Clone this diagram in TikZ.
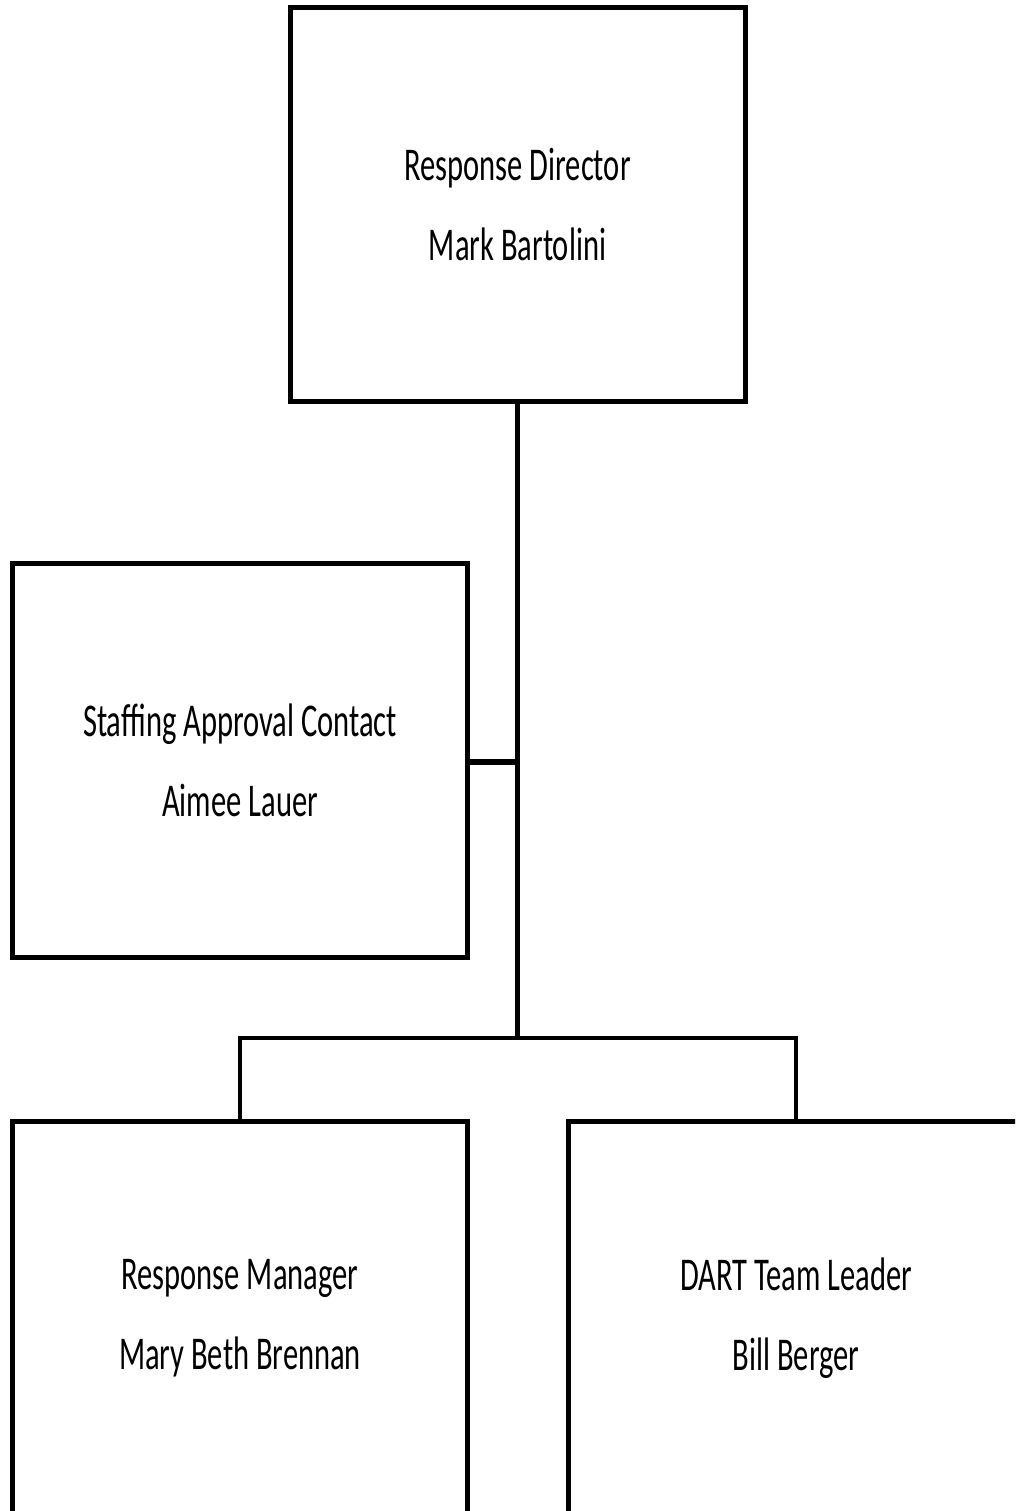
\documentclass[tikz,border=0pt]{standalone}
\usepackage{fontspec}
\newfontfamily\boxfont[FakeStretch=0.65]{Carlito}
\begin{document}
\begin{tikzpicture}[x=1pt,y=-1pt,
  orgbox/.style={draw, line width=5pt, minimum width=455pt, minimum height=394pt,
    inner sep=0pt, align=center, font=\boxfont\fontsize{47}{80}\selectfont},
  link/.style={line width=4.5pt},
  stub/.style={line width=6pt}]
\useasboundingbox (0,0) rectangle (1015,1511);
\clip (0,0) rectangle (1015,1511);
\node[orgbox] (rd) at (517.5,204.5) {Response Director\\Mark Bartolini};
\node[orgbox] (sa) at (240,760) {Staffing Approval Contact\\Aimee Lauer};
\node[orgbox] (rm) at (240,1318) {Response Manager\\Mary Beth Brennan};
\node[orgbox] (dt) at (796,1318) {DART Team Leader\\Bill Berger};
\coordinate (j) at (517.5,1038);
\coordinate (m) at (517.5,762);
\draw[link] (rd.south) -- (j);
\draw[stub] (sa.east |- m) -- (m);
\draw[link] (rm.north) |- (j) -| (dt.north);
\end{tikzpicture}
\end{document}
